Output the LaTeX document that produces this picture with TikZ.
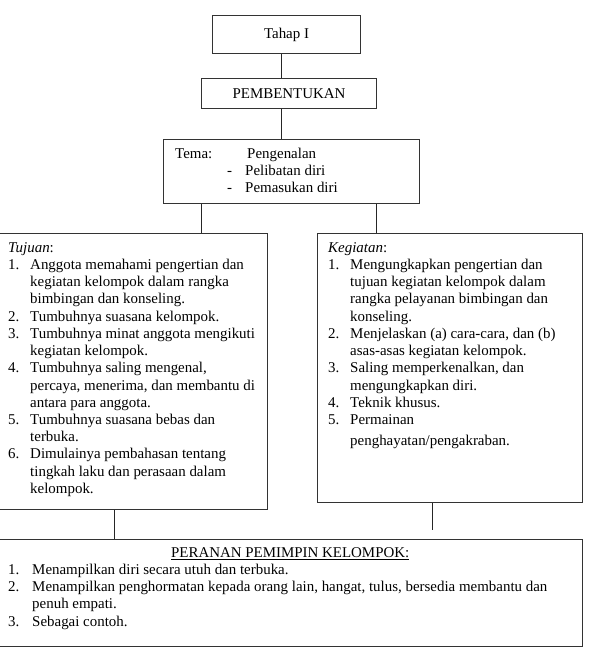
\documentclass[tikz,border=0pt]{standalone}
\usepackage{fontspec}
\setmainfont{Liberation Serif}
\usepackage{array}
\usepackage{tikz}
\usetikzlibrary{positioning}

\begin{document}
\begin{tikzpicture}[
  kotak/.style={draw=black!80, line width=0.9pt, inner sep=0pt},
  isi/.style={anchor=north west, inner sep=0pt, align=left},
  garis/.style={draw=black!85, line width=0.8pt},
  font=\fontsize{12.75}{14.7}\selectfont]
\useasboundingbox (0,0) rectangle (17.67,-20.07);

% boxes
\node[kotak, anchor=north west, minimum width=4.44cm, minimum height=1.14cm] (tahap) at (6.36,-0.45) {Tahap I};
\node[kotak, anchor=north west, minimum width=5.25cm, minimum height=0.9cm] (bentuk) at (6.03,-2.34) {PEMBENTUKAN};
\node[kotak, anchor=north west, minimum width=7.68cm, minimum height=1.92cm] (tema) at (4.89,-4.17) {};
\node[kotak, anchor=north west, minimum width=8.07cm, minimum height=8.28cm] (tujuan) at (-0.06,-6.99) {};
\node[kotak, anchor=north west, minimum width=7.95cm, minimum height=8.07cm] (kegiatan) at (9.51,-6.99) {};
\node[kotak, anchor=north west, minimum width=17.52cm, minimum height=3.21cm] (peranan) at (-0.06,-16.17) {};

% texts
\node[isi] (tematxt) at (5.25,-4.38) {\begin{tabular}{@{}l@{}}
\makebox[2.16cm][l]{Tema:}Pengenalan\\
\hspace{1.56cm}\makebox[0.54cm][l]{-}Pelibatan diri\\
\hspace{1.56cm}\makebox[0.54cm][l]{-}Pemasukan diri
\end{tabular}};

\node[isi] (tujuantxt) at (0.24,-7.2) {\begin{tabular}{@{}p{0.66cm}@{}l@{}}
\multicolumn{2}{@{}l@{}}{\textit{Tujuan}:}\\
1. & Anggota memahami pengertian dan\\
   & kegiatan kelompok dalam rangka\\
   & bimbingan dan konseling.\\
2. & Tumbuhnya suasana kelompok.\\
3. & Tumbuhnya minat anggota mengikuti\\
   & kegiatan kelompok.\\
4. & Tumbuhnya saling mengenal,\\
   & percaya, menerima, dan membantu di\\
   & antara para anggota.\\
5. & Tumbuhnya suasana bebas dan\\
   & terbuka.\\
6. & Dimulainya pembahasan tentang\\
   & tingkah laku dan perasaan dalam\\
   & kelompok.
\end{tabular}};

\node[isi] (kegiatantxt) at (9.84,-7.2) {\begin{tabular}{@{}p{0.66cm}@{}l@{}}
\multicolumn{2}{@{}l@{}}{\textit{Kegiatan}:}\\
1. & Mengungkapkan pengertian dan\\
   & tujuan kegiatan kelompok dalam\\
   & rangka pelayanan bimbingan dan\\
   & konseling.\\
2. & Menjelaskan (a) cara-cara, dan (b)\\
   & asas-asas kegiatan kelompok.\\
3. & Saling memperkenalkan, dan\\
   & mengungkapkan diri.\\
4. & Teknik khusus.\\
5. & Permainan\\[3.4pt]
   & penghayatan/pengakraban.
\end{tabular}};

\node[isi] (perananTxt) at (0.24,-16.35) {\begin{tabular}{@{}p{0.72cm}@{}p{16.2cm}@{}}
\multicolumn{2}{@{}c@{}}{\underline{PERANAN PEMIMPIN KELOMPOK:}}\\
1. & Menampilkan diri secara utuh dan terbuka.\\
2. & Menampilkan penghormatan kepada orang lain, hangat, tulus, bersedia membantu dan\\
   & penuh empati.\\
3. & Sebagai contoh.
\end{tabular}};

% connectors
\coordinate (s1) at (8.43,0);
\coordinate (s2) at (6.03,0);
\coordinate (s3) at (11.28,0);
\coordinate (s4) at (3.42,0);
\coordinate (s5) at (12.96,-15.9);

\draw[garis] (tahap.south -| s1) -- (bentuk.north -| s1);
\draw[garis] (bentuk.south -| s1) -- (tema.north -| s1);
\draw[garis] (tema.south -| s2) -- (tujuan.north -| s2);
\draw[garis] (tema.south -| s3) -- (kegiatan.north -| s3);
\draw[garis] (tujuan.south -| s4) -- (peranan.north -| s4);
\draw[garis] (kegiatan.south -| s5) -- (s5);
\end{tikzpicture}
\end{document}
